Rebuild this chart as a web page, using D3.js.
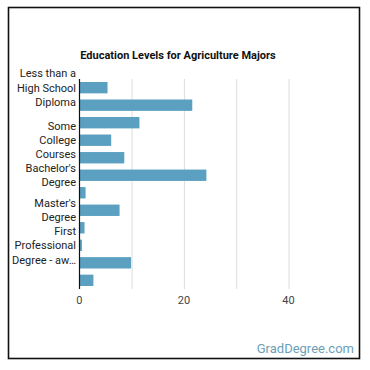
<!DOCTYPE html>
<html>
<head>
<meta charset="utf-8">
<script src="https://cdn.jsdelivr.net/npm/d3@7/dist/d3.min.js"></script>
<style>
  html, body { margin: 0; padding: 0; background: #fff; }
  svg { display: block; }
  text { font-family: Roboto, "Noto Sans", sans-serif; }
</style>
</head>
<body>
<script>
const title = "Education Levels for Agriculture Majors";
const categories = [
  "Less than a High School Diploma",
  "High School Diploma",
  "Post-Secondary Certificate",
  "Some College Courses",
  "Associate's Degree",
  "Bachelor's Degree",
  "Post-Baccalaureate Certificate",
  "Master's Degree",
  "Post-Master's Certificate",
  "First Professional Degree - awarded",
  "Doctoral Degree",
  "Post-Doctoral Training"
];
const values = [5.4, 21.6, 11.5, 6.1, 8.6, 24.3, 1.2, 7.7, 1.0, 0.5, 9.9, 2.7];
// labels that stay visible (others are hidden by overlap in the original)
const visibleLabels = {
  0: ["Less than a", "High School", "Diploma"],
  3: ["Some", "College", "Courses"],
  5: ["Bachelor's", "Degree"],
  7: ["Master's", "Degree"],
  9: ["First", "Professional", "Degree - aw\u2026"]
};
const xTicks = [0, 20, 40];
const gridTicks = [10, 20, 30, 40];

const W = 370, H = 370;
const svg = d3.select("body").append("svg").attr("width", W).attr("height", H);

// frame
svg.append("rect").attr("x", 8.5).attr("y", 7.5).attr("width", 351).attr("height", 351)
  .attr("fill", "#fff").attr("stroke", "#111").attr("stroke-width", 1.6);

svg.append("text").attr("x", 178).attr("y", 59).attr("text-anchor", "middle")
  .attr("font-size", 11).attr("font-weight", "bold").attr("fill", "#111").text(title);

const x = d3.scaleLinear().domain([0, 50]).range([79.3, 340.8]);
const y = d3.scaleBand().domain(d3.range(categories.length)).range([79, 289]).paddingInner(0.35).paddingOuter(0.17);

// grid
svg.append("g").selectAll("line").data(gridTicks).join("line")
  .attr("x1", d => x(d) + 0.5).attr("x2", d => x(d) + 0.5)
  .attr("y1", 79).attr("y2", 289)
  .attr("stroke", "#dcdcdc").attr("stroke-width", 1);

// bars
svg.append("g").selectAll("rect").data(values).join("rect")
  .attr("x", x(0)).attr("y", (d, i) => y(i))
  .attr("width", d => x(d) - x(0)).attr("height", y.bandwidth())
  .attr("fill", "#5ba0c0");

// axis line
svg.append("line").attr("x1", 79.5).attr("x2", 79.5).attr("y1", 79).attr("y2", 289)
  .attr("stroke", "#111").attr("stroke-width", 1.2);

// x tick labels
svg.append("g").selectAll("text").data(xTicks).join("text")
  .attr("x", d => x(d)).attr("y", 304).attr("text-anchor", "middle")
  .attr("font-size", 11).attr("fill", "#444").text(d => d);

// category labels
const lh = 14.2;
const lab = svg.append("g");
Object.keys(visibleLabels).forEach(k => {
  const i = +k, lines = visibleLabels[k];
  const cy = y(i) + y.bandwidth() / 2;
  const t = lab.append("text").attr("text-anchor", "end").attr("font-size", 11).attr("fill", "#222");
  lines.forEach((ln, j) => {
    t.append("tspan").attr("x", 76).attr("y", cy + (j - (lines.length - 1) / 2) * lh + 4).text(ln);
  });
  t.append("title").text(categories[i]);
});

svg.append("text").attr("x", 354).attr("y", 353).attr("text-anchor", "end")
  .attr("font-size", 13).attr("fill", "#6a9fb8").text("GradDegree.com");
</script>
</body>
</html>
